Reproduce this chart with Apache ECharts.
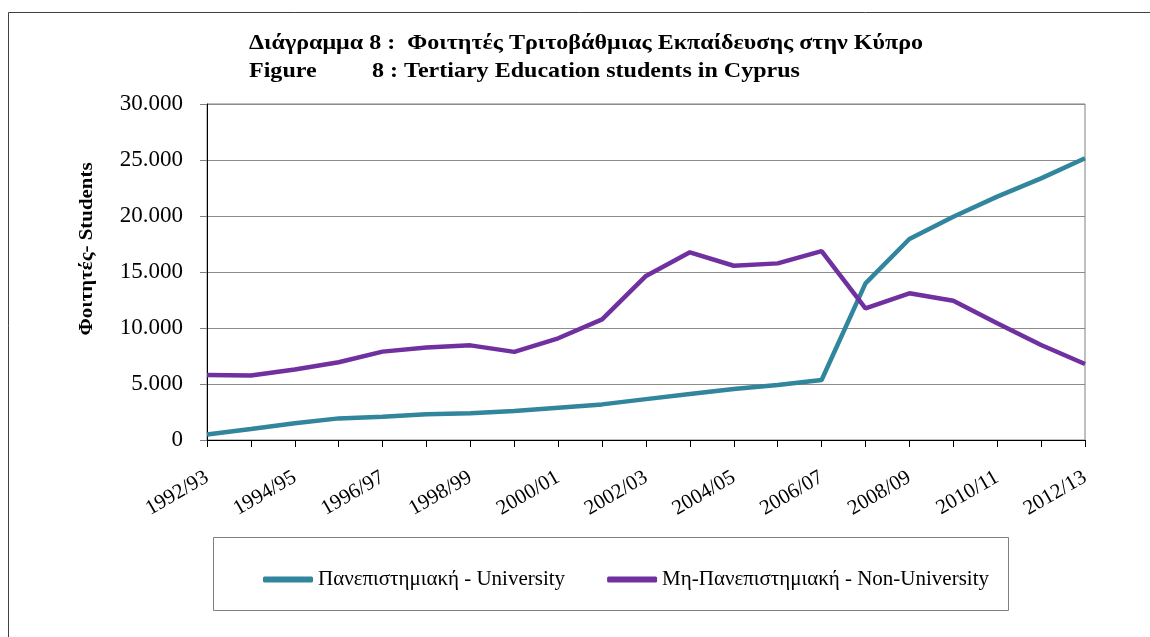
<!DOCTYPE html>
<html>
<head>
<meta charset="utf-8">
<script src="https://cdn.jsdelivr.net/npm/echarts@6/dist/echarts.min.js"></script>
<style>
  html, body { margin: 0; padding: 0; background: #fff; }
  #chart { width: 1150px; height: 637px; }
</style>
</head>
<body>
<div id="chart"></div>
<script>
// academic years
const years = [
  '1992/93', '1993/94', '1994/95', '1995/96', '1996/97', '1997/98', '1998/99',
  '1999/00', '2000/01', '2001/02', '2002/03', '2003/04', '2004/05', '2005/06',
  '2006/07', '2007/08', '2008/09', '2009/10', '2010/11', '2011/12', '2012/13'
];

const university = [
  500, 980, 1490, 1930, 2080, 2290, 2380, 2590, 2890, 3180, 3650,
  4110, 4550, 4910, 5360, 13990, 17950, 19940, 21730, 23360, 25150
];
const nonUniversity = [
  5800, 5750, 6300, 6940, 7890, 8250, 8450, 7870, 9080, 10770, 14650,
  16760, 15560, 15770, 16870, 11750, 13100, 12440, 10420, 8480, 6790
];

const seriesNames = ['Πανεπιστημιακή - University', 'Μη-Πανεπιστημιακή - Non-University'];
const colors = ['#31859C', '#7030A0'];

const serif = '"Liberation Serif", "DejaVu Serif", serif';

const chart = echarts.init(document.getElementById('chart'));

// 30000 -> 30.000
const fmt = v => String(v).replace(/\B(?=(\d{3})+(?!\d))/g, '.');

// title text, the original is a bit stretched sideways
const titleText = (text, x, y) => ({
  type: 'text', silent: true, x: x, y: y, scaleX: 1.145,
  style: {
    text: text, fill: '#000',
    font: 'bold 21px ' + serif,
    textAlign: 'left', textVerticalAlign: 'middle'
  }
});

const option = {
  animation: false,
  textStyle: { fontFamily: serif },
  grid: {
    left: 207, right: 65, top: 104, bottom: 197,
    show: true, borderColor: '#808080', borderWidth: 1
  },
  legend: {
    left: 258, top: 564,
    itemWidth: 50, itemHeight: 6, itemGap: 42,
    icon: 'roundRect',
    textStyle: { fontFamily: serif, fontSize: 21, color: '#000' },
    data: seriesNames
  },
  xAxis: {
    type: 'category',
    data: years,
    boundaryGap: false,
    axisLine: { lineStyle: { color: '#000', width: 1 } },
    axisTick: { interval: 0, length: 7, lineStyle: { color: '#000' } },
    axisLabel: {
      interval: 1, rotate: 30, margin: 36,
      fontFamily: serif, fontSize: 21, color: '#000'
    },
    splitLine: { show: false }
  },
  yAxis: {
    type: 'value',
    min: 0, max: 30000, interval: 5000,
    axisLine: { show: true, lineStyle: { color: '#000', width: 1 } },
    axisTick: { show: true, length: 7, lineStyle: { color: '#808080' } },
    axisLabel: {
      margin: 24, fontFamily: serif, fontSize: 23, color: '#000',
      formatter: fmt
    },
    splitLine: { lineStyle: { color: '#8c8c8c', width: 1 } }
  },
  series: [
    {
      name: seriesNames[0],
      type: 'line',
      data: university,
      showSymbol: false,
      lineStyle: { color: colors[0], width: 4.5 },
      itemStyle: { color: colors[0] }
    },
    {
      name: seriesNames[1],
      type: 'line',
      data: nonUniversity,
      showSymbol: false,
      lineStyle: { color: colors[1], width: 4.5 },
      itemStyle: { color: colors[1] }
    }
  ],
  graphic: [
    titleText('Διάγραμμα 8 :  Φοιτητές Τριτοβάθμιας Εκπαίδευσης στην Κύπρο', 249, 44),
    titleText('Figure', 249, 72),
    titleText('8 : Tertiary Education students in Cyprus', 372, 72),
    // y axis name
    {
      type: 'text', silent: true, x: 87, y: 249,
      rotation: Math.PI / 2, scaleX: 1.1,
      style: {
        text: 'Φοιτητές- Students', fill: '#000',
        font: 'bold 19px ' + serif,
        textAlign: 'center', textVerticalAlign: 'middle'
      }
    },
    // outer chart frame
    {
      type: 'rect', silent: true,
      shape: { x: 8.5, y: 12.5, width: 1160, height: 660 },
      style: { fill: null, stroke: '#404040', lineWidth: 1 }
    },
    // legend box
    {
      type: 'rect', silent: true,
      shape: { x: 213.5, y: 537.5, width: 795, height: 73 },
      style: { fill: null, stroke: '#808080', lineWidth: 1 }
    }
  ]
};

chart.setOption(option);
</script>
</body>
</html>
